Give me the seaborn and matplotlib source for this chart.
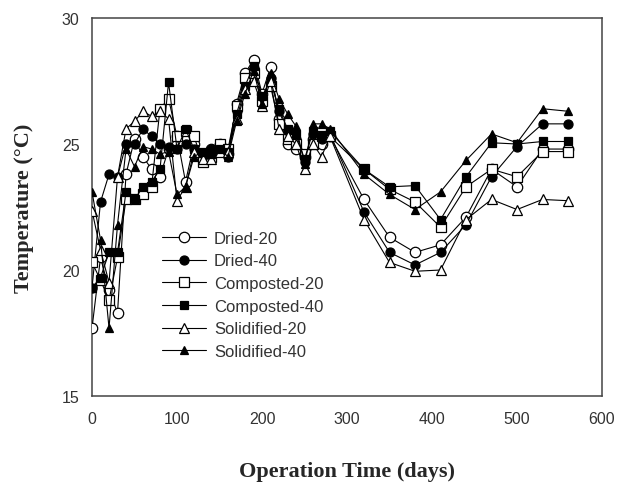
import matplotlib
matplotlib.use("Agg")
import matplotlib.pyplot as plt
import seaborn as sns
import pandas as pd

days = [0, 10, 20, 30, 40, 50, 60, 70, 80, 90, 100, 110, 120, 130, 140, 150,
        160, 170, 180, 190, 200, 210, 220, 230, 240, 250, 260, 270, 280,
        320, 350, 380, 410, 440, 470, 500, 530, 560]

dried_20 = [17.7, 20.5, 19.2, 18.3, 23.8, 25.2, 24.5, 24.0, 23.7, 24.8, 25.3, 23.5,
            25.0, 24.5, 24.8, 25.0, 24.6, 26.6, 27.8, 28.35, 27.0, 28.05, 26.0, 25.0,
            24.8, 24.5, 25.2, 25.0, 25.3, 22.8, 21.3, 20.7, 21.0, 22.1, 24.0, 23.3,
            24.8, 24.8]
dried_40 = [19.3, 22.7, 23.8, 23.7, 25.0, 25.0, 25.6, 25.3, 25.0, 24.9, 24.8, 25.0,
            24.8, 24.6, 24.8, 24.9, 24.5, 26.3, 27.5, 28.0, 26.8, 27.6, 26.3, 25.5,
            25.2, 24.3, 25.4, 25.2, 25.4, 22.3, 20.7, 20.2, 20.7, 21.8, 23.7, 24.9,
            25.8, 25.8]
composted_20 = [20.3, 19.6, 18.8, 20.5, 22.8, 22.8, 23.0, 23.3, 26.4, 26.8, 25.3, 25.5,
                25.3, 24.3, 24.5, 25.0, 24.8, 26.5, 27.6, 27.8, 26.7, 27.3, 25.8, 25.2,
                25.0, 24.6, 25.0, 25.3, 25.3, 24.0, 23.2, 22.7, 21.7, 23.3, 24.0, 23.7,
                24.7, 24.7]
composted_40 = [19.3, 19.7, 20.7, 20.7, 23.1, 22.8, 23.3, 23.5, 24.0, 27.45, 24.8, 25.6,
                24.8, 24.7, 24.6, 24.8, 24.7, 26.2, 27.3, 28.1, 26.9, 27.5, 26.4, 25.6,
                25.4, 24.4, 25.5, 25.3, 25.5, 24.0, 23.3, 23.35, 22.0, 23.7, 25.05, 25.0,
                25.1, 25.1]
solidified_20 = [22.35, 20.8, 19.5, 23.7, 25.6, 25.9, 26.3, 26.1, 26.3, 26.0, 22.75, 23.3,
                 24.7, 24.4, 24.4, 24.7, 24.7, 26.0, 27.2, 27.5, 26.5, 27.5, 25.6, 25.3,
                 25.0, 24.0, 25.0, 24.5, 25.3, 22.0, 20.3, 19.95, 20.0, 22.0, 22.8, 22.4,
                 22.8, 22.75]
solidified_40 = [23.1, 21.2, 17.7, 21.8, 24.8, 24.1, 24.9, 24.8, 24.6, 24.7, 23.0, 23.3,
                 24.5, 24.7, 24.6, 24.8, 24.5, 25.9, 27.0, 27.9, 26.6, 27.8, 26.8, 26.2,
                 25.7, 24.2, 25.8, 25.8, 25.6, 23.8, 23.0, 22.4, 23.1, 24.35, 25.4, 25.05,
                 26.4, 26.3]

series_names = ["Dried-20", "Dried-40", "Composted-20", "Composted-40",
                "Solidified-20", "Solidified-40"]
series_values = [dried_20, dried_40, composted_20, composted_40,
                 solidified_20, solidified_40]

# marker shape, face colour, marker size for each treatment
styles = {
    "Dried-20": ("o", "white", 7.5),
    "Dried-40": ("o", "black", 6.5),
    "Composted-20": ("s", "white", 6.5),
    "Composted-40": ("s", "black", 6),
    "Solidified-20": ("^", "white", 7),
    "Solidified-40": ("^", "black", 5.5),
}

sns.set_style("white")
plt.rcParams["font.family"] = ["Liberation Sans", "DejaVu Sans"]

fig = plt.figure(figsize=(6.29, 4.85), dpi=100)
ax = fig.add_axes([0.1463, 0.1814, 0.8108, 0.7794])

for name, vals in zip(series_names, series_values):
    df = pd.DataFrame({"day": days, "temp": vals})
    marker, face, ms = styles[name]
    sns.lineplot(data=df, x="day", y="temp", ax=ax, color="black", lw=0.8,
                 marker=marker, markersize=ms, markerfacecolor=face,
                 markeredgecolor="black", markeredgewidth=0.9, label=name,
                 sort=False, zorder=3)

ax.set_xlim(0, 600)
ax.set_ylim(15, 30)
ax.set_xticks([0, 100, 200, 300, 400, 500, 600])
ax.set_yticks([15, 20, 25, 30])
ax.tick_params(axis="both", direction="out", length=5, width=1, color="#333333",
               labelsize=11.5, labelcolor="#333333", pad=4)
ax.tick_params(axis="x", pad=6)
for sp in ax.spines.values():
    sp.set_visible(True)
    sp.set_color("#444444")
    sp.set_linewidth(1.1)

ax.set_xlabel("Operation Time (days)", fontfamily="Liberation Serif",
              fontweight="bold", fontsize=16, labelpad=25)
ax.set_ylabel("Temperature (\u00b0C)", fontfamily="Liberation Serif",
              fontweight="bold", fontsize=16, labelpad=20)

leg = ax.legend(loc="upper left", bbox_to_anchor=(0.125, 0.455), frameon=False,
                fontsize=12, handlelength=2.6, handletextpad=0.5,
                labelspacing=0.46, borderaxespad=0)
for t in leg.get_texts():
    t.set_color("#333333")

fig.savefig("out.png", dpi=100)
